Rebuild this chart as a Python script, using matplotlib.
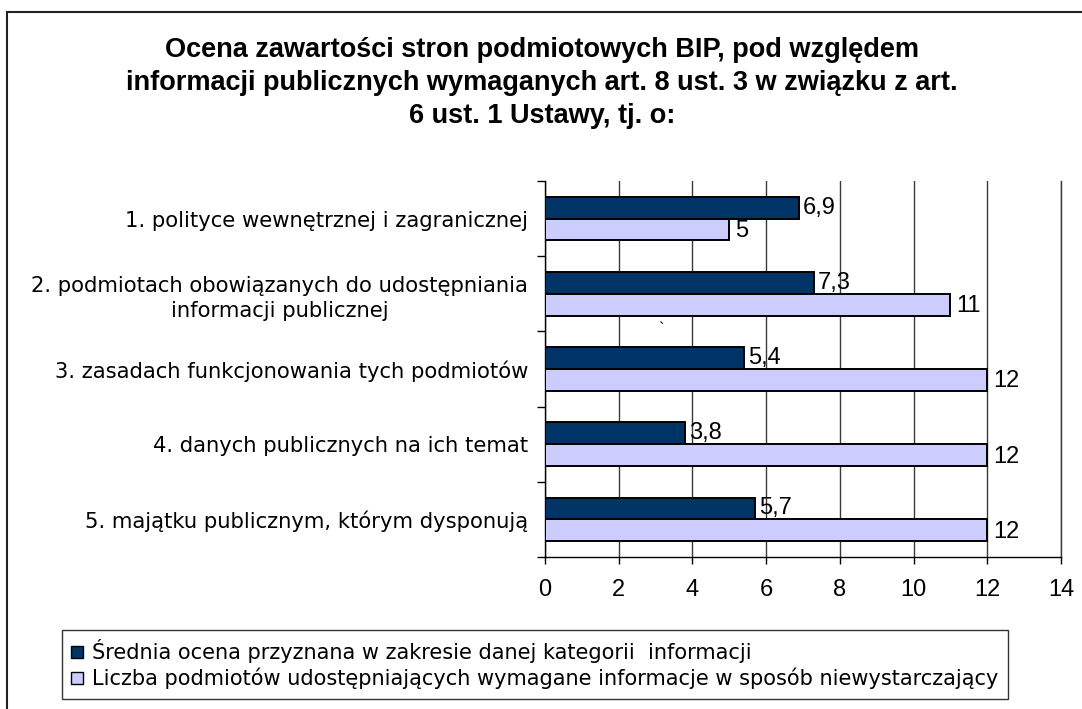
import numpy as np
from matplotlib import patches as mpatches
from matplotlib import pyplot as plt

categories = [
    "1. polityce wewnętrznej i zagranicznej",
    "2. podmiotach obowiązanych do udostępniania\ninformacji publicznej",
    "3. zasadach funkcjonowania tych podmiotów",
    "4. danych publicznych na ich temat",
    "5. majątku publicznym, którym dysponują",
]
srednia = [6.9, 7.3, 5.4, 3.8, 5.7]
liczba = [5, 11, 12, 12, 12]
series_labels = [
    "Średnia ocena przyznana w zakresie danej kategorii  informacji",
    "Liczba podmiotów udostępniających wymagane informacje w sposób niewystarczający",
]
title = (
    "Ocena zawartości stron podmiotowych BIP, pod względem\n"
    "informacji publicznych wymaganych art. 8 ust. 3 w związku z art.\n"
    "6 ust. 1 Ustawy, tj. o:"
)

dark = "#003366"
light = "#ccccff"
grid_col = "#3a3a3a"

fig = plt.figure(figsize=(10.82, 7.09), dpi=100)
ax = fig.add_axes([545 / 1082, 1 - 557 / 709, 516 / 1082, 376 / 709])

y = np.arange(len(categories))
h = 0.29
ax.barh(y - h / 2, srednia, height=h, color=dark, edgecolor="black", linewidth=1.4, zorder=3)
ax.barh(y + h / 2, liczba, height=h, color=light, edgecolor="black", linewidth=1.4, zorder=3)

for yi, v in zip(y, srednia):
    ax.text(v + 0.1, yi - h / 2, f"{v:g}".replace(".", ","), va="center", ha="left",
            fontsize=17, family="Liberation Sans", zorder=4)
for yi, v in zip(y, liczba):
    ax.text(v + 0.15, yi + h / 2 + 0.02, f"{v:g}".replace(".", ","), va="center", ha="left",
            fontsize=17, family="Liberation Sans", zorder=4)

# stray mark present in the original
ax.text(3.15, 1.47, "`", ha="center", va="center", fontsize=12, family="Liberation Sans")

ax.set_xlim(0, 14)
ax.set_ylim(len(categories) - 0.5, -0.5)
ax.set_xticks(np.arange(0, 15, 2))
ax.xaxis.grid(True, color=grid_col, linewidth=1, zorder=0)
ax.tick_params(axis="x", direction="out", length=5, width=1, pad=11, labelsize=17)
for lab in ax.get_xticklabels():
    lab.set_family("Liberation Sans")

ax.set_yticks(y)
ax.set_yticklabels(categories, fontsize=15.2, family="DejaVu Sans",
                   multialignment="center", linespacing=1.35)
ax.tick_params(axis="y", which="major", length=0, pad=12)
ax.set_yticks(np.arange(-0.5, len(categories) + 0.5, 1), minor=True)
ax.tick_params(axis="y", which="minor", length=6, width=1, direction="out")

ax.spines["top"].set_visible(False)
ax.spines["right"].set_color(grid_col)
ax.spines["right"].set_linewidth(1)
for s in ["left", "bottom"]:
    ax.spines[s].set_linewidth(1)

fig.text(542 / 1082, 1 - 83 / 709, title, ha="center", va="center", fontsize=19.5,
         fontweight="bold", family="Liberation Sans", linespacing=1.37)

fig.patches.append(mpatches.Rectangle((7 / 1082, -0.1), 1.2, 0.1 + 1 - 12 / 709,
                                      transform=fig.transFigure, fill=False,
                                      edgecolor="#222222", linewidth=1.5))

handles = [mpatches.Patch(facecolor=dark, edgecolor="black"),
           mpatches.Patch(facecolor=light, edgecolor="black")]
leg = fig.legend(handles, series_labels, loc="upper left",
                 bbox_to_anchor=(62 / 1082, 1 - 630 / 709),
                 prop={"family": "DejaVu Sans", "size": 15},
                 handlelength=0.55, handleheight=0.55, handletextpad=0.45,
                 labelspacing=0.22, borderpad=0.45, fancybox=False,
                 edgecolor="#333333", framealpha=1, borderaxespad=0)
leg.get_frame().set_linewidth(1)

fig.savefig("out.png", dpi=100)
